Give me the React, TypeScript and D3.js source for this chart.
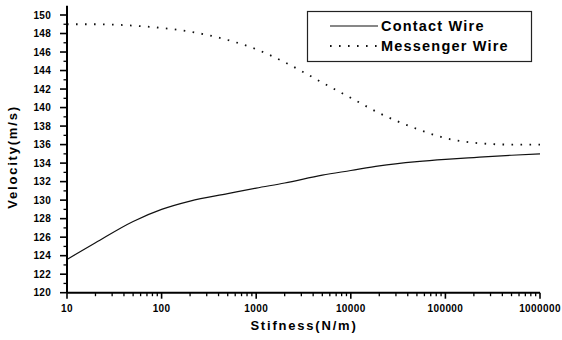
import React from "react";
import * as d3 from "d3";

const stiffness = [10, 20, 50, 100, 200, 500, 1000, 2000, 5000, 10000, 20000, 50000, 100000, 200000, 500000, 1000000];
const contactWire = [123.6, 125.4, 127.7, 129.0, 129.9, 130.7, 131.3, 131.85, 132.7, 133.2, 133.7, 134.15, 134.4, 134.6, 134.85, 135.0];
const messengerWire = [149.0, 149.0, 148.85, 148.6, 148.2, 147.3, 146.3, 144.9, 142.7, 141.05, 139.4, 137.7, 136.7, 136.2, 136.0, 136.0];
const xTickValues = [10, 100, 1000, 10000, 100000, 1000000];
const yTickValues = d3.range(120, 151, 2);
const seriesNames = ["Contact Wire", "Messenger Wire"];

const W = 562;
const H = 340;
const FONT = "'Liberation Sans', Arial, sans-serif";

export default function App() {
  const x = d3.scaleLog().domain([10, 1000000]).range([67, 540]);
  const y = d3.scaleLinear().domain([120, 150]).range([292.7, 15]);

  const line = (vals: number[]) =>
    d3
      .line<number>()
      .x((_, i) => x(stiffness[i]))
      .y((v) => y(v))
      .curve(d3.curveMonotoneX)(vals) || "";

  const xMinor: number[] = [];
  for (let e = 1; e < 6; e++) {
    for (let k = 2; k <= 9; k++) xMinor.push(k * Math.pow(10, e));
  }
  const yMinor = d3.range(121, 151, 2);

  const x0 = x(10);
  const yBase = y(120);

  return (
    <svg
      width={W}
      height={H}
      style={{ position: "absolute", left: 0, top: 0, background: "#fff" }}
      fontFamily={FONT}
    >
      <rect width={W} height={H} fill="#fff" />

      {/* series */}
      <path d={line(contactWire)} fill="none" stroke="#111" strokeWidth={1.2} />
      <path
        d={line(messengerWire)}
        fill="none"
        stroke="#111"
        strokeWidth={1.8}
        strokeDasharray="1.6 7.4"
        strokeLinecap="butt"
      />

      {/* y axis */}
      <line x1={x0} x2={x0} y1={yBase} y2={y(151)} stroke="#000" strokeWidth={2} />
      {yTickValues.map((v) => (
        <g key={"yt" + v}>
          <line x1={x0 - 7} x2={x0} y1={y(v)} y2={y(v)} stroke="#000" strokeWidth={1.6} />
          <text
            x={51}
            y={y(v)}
            dy="0.35em"
            textAnchor="end"
            fontSize={10}
            fontWeight="bold"
            letterSpacing={0.3}
          >
            {v}
          </text>
        </g>
      ))}
      {yMinor.map((v) => (
        <line key={"ym" + v} x1={x0 - 3.5} x2={x0} y1={y(v)} y2={y(v)} stroke="#000" strokeWidth={1.3} />
      ))}

      {/* x axis */}
      <line x1={x0} x2={x(1000000)} y1={yBase} y2={yBase} stroke="#000" strokeWidth={2} />
      {xTickValues.map((v) => (
        <g key={"xt" + v}>
          <line x1={x(v)} x2={x(v)} y1={yBase} y2={yBase + 6} stroke="#000" strokeWidth={1.6} />
          <text
            x={x(v)}
            y={312}
            textAnchor="middle"
            fontSize={10}
            fontWeight="bold"
            letterSpacing={0.4}
          >
            {v}
          </text>
        </g>
      ))}
      {xMinor.map((v) => (
        <line key={"xm" + v} x1={x(v)} x2={x(v)} y1={yBase} y2={yBase + 3.5} stroke="#000" strokeWidth={1.3} />
      ))}

      {/* axis titles */}
      <text
        x={304}
        y={330}
        textAnchor="middle"
        fontSize={13}
        fontWeight="bold"
        letterSpacing={1.8}
      >
        Stifness(N/m)
      </text>
      <text
        transform="translate(17,157) rotate(-90)"
        textAnchor="middle"
        fontSize={13}
        fontWeight="bold"
        letterSpacing={1.8}
      >
        Velocity(m/s)
      </text>

      {/* legend */}
      <rect x={307.5} y={11.5} width={224} height={50} fill="#fff" stroke="#222" strokeWidth={1.2} />
      <line x1={330} x2={378} y1={26} y2={26} stroke="#111" strokeWidth={1.2} />
      <line x1={330} x2={378} y1={46} y2={46} stroke="#111" strokeWidth={1.8} strokeDasharray="1.6 7.4" />
      <text x={381} y={31} fontSize={14.5} fontWeight="bold" letterSpacing={1.2}>
        {seriesNames[0]}
      </text>
      <text x={381} y={51} fontSize={14.5} fontWeight="bold" letterSpacing={1.2}>
        {seriesNames[1]}
      </text>
    </svg>
  );
}
